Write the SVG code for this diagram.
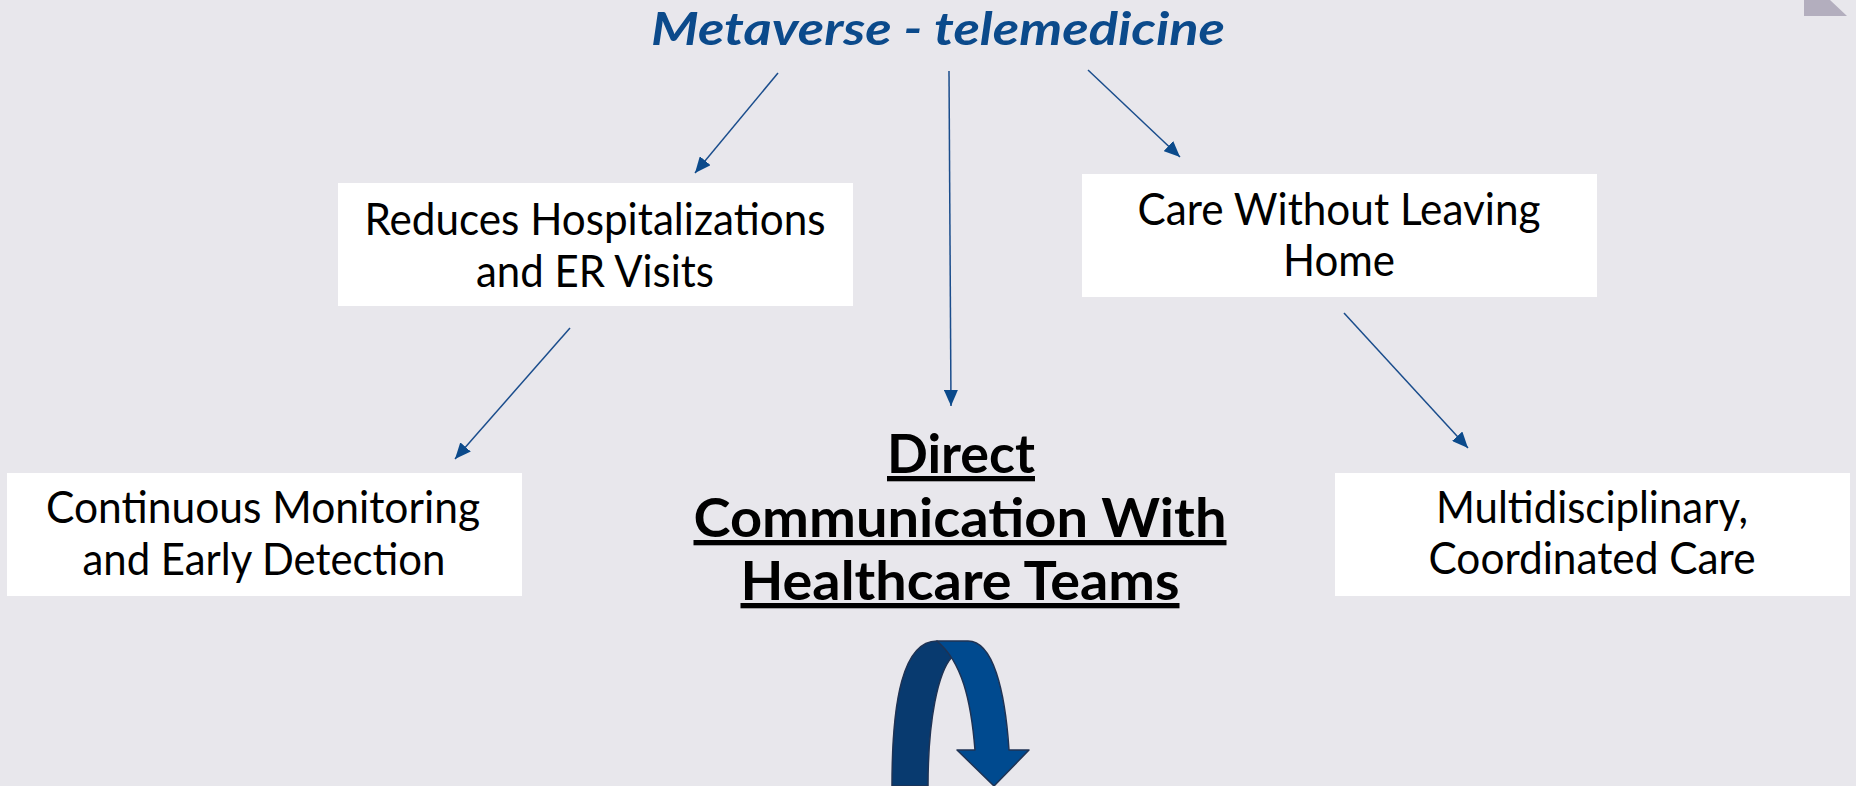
<svg xmlns="http://www.w3.org/2000/svg" width="1856" height="786" viewBox="0 0 1856 786">
<defs>
<style>
.bg{fill:#e8e7ec}
.box{fill:#ffffff}
.bt{font-family:Lato,"Open Sans","Liberation Sans",sans-serif;font-size:45px;fill:#000;text-anchor:middle}
.ct{font-family:Lato,"Open Sans","Liberation Sans",sans-serif;font-size:53px;font-weight:700;fill:#000;text-anchor:middle;text-decoration:underline}
.title{font-family:Lato,"Open Sans","Liberation Sans",sans-serif;font-size:46px;font-weight:700;font-style:italic;fill:#0b4a8b;text-anchor:middle}
.conn{stroke:#1a4d8c;stroke-width:1.5;fill:none;marker-end:url(#ah)}
</style>
<marker id="ah" markerUnits="userSpaceOnUse" markerWidth="16" markerHeight="14" refX="16" refY="7" orient="auto">
<path d="M0,0 L16,7 L0,14 Z" fill="#0b4a8b"/>
</marker>
</defs>
<rect class="bg" x="0" y="0" width="1856" height="786"/>
<path d="M1804,0 L1830,0 L1847,16 L1804,16 Z" fill="#b3aebe"/>

<g id="title">
<text class="title" x="938" y="45" textLength="574" lengthAdjust="spacingAndGlyphs">Metaverse - telemedicine</text>
</g>

<g id="connectors">
<line class="conn" x1="778" y1="73" x2="695" y2="173"/>
<line class="conn" x1="949" y1="71" x2="951" y2="406"/>
<line class="conn" x1="1088" y1="70" x2="1180" y2="157"/>
<line class="conn" x1="570" y1="328" x2="455" y2="459"/>
<line class="conn" x1="1344" y1="313" x2="1468" y2="448"/>
</g>

<g id="reduces">
<rect class="box" x="338" y="183" width="515" height="123"/>
<text class="bt" x="595" y="235" textLength="461" lengthAdjust="spacingAndGlyphs">Reduces Hospitalizations</text>
<text class="bt" x="595" y="287" textLength="238" lengthAdjust="spacingAndGlyphs">and ER Visits</text>
</g>

<g id="care-home">
<rect class="box" x="1082" y="174" width="515" height="123"/>
<text class="bt" x="1339" y="225" textLength="403" lengthAdjust="spacingAndGlyphs">Care Without Leaving</text>
<text class="bt" x="1339" y="276" textLength="112" lengthAdjust="spacingAndGlyphs">Home</text>
</g>

<g id="monitoring">
<rect class="box" x="7" y="473" width="515" height="123"/>
<text class="bt" x="263" y="523" textLength="434" lengthAdjust="spacingAndGlyphs">Continuous Monitoring</text>
<text class="bt" x="264" y="575" textLength="363" lengthAdjust="spacingAndGlyphs">and Early Detection</text>
</g>

<g id="multidisciplinary">
<rect class="box" x="1335" y="473" width="515" height="123"/>
<text class="bt" x="1592" y="523" textLength="312" lengthAdjust="spacingAndGlyphs">Multidisciplinary,</text>
<text class="bt" x="1592" y="574" textLength="327" lengthAdjust="spacingAndGlyphs">Coordinated Care</text>
</g>

<g id="direct-communication">
<text class="ct" x="961" y="473" textLength="148" lengthAdjust="spacingAndGlyphs">Direct</text>
<text class="ct" x="960" y="537" textLength="533" lengthAdjust="spacingAndGlyphs">Communication With</text>
<text class="ct" x="960" y="600" textLength="439" lengthAdjust="spacingAndGlyphs">Healthcare Teams</text>
</g>

<g id="curved-arrow" stroke="#1f3354" stroke-width="1.5" stroke-linejoin="round">
<path d="M892,786 C892,700 903,641 937,641 C943,645 948,651 952,657 C938,672 928,720 928,786 Z" fill="#083a6f"/>
<path d="M937,641 L968,641 C993,641 1005,690 1009,750 L1029,750 L994,786 L957,750 L975,750 C971,700 962,662 937,641 Z" fill="#004a8f"/>
</g>
</svg>
